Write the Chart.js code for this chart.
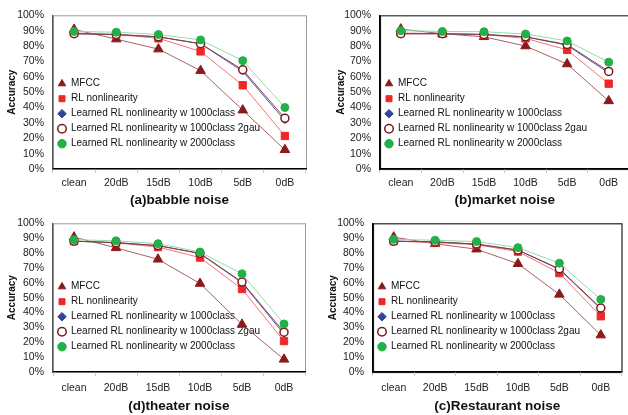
<!DOCTYPE html>
<html>
<head>
<meta charset="utf-8">
<script src="https://cdn.jsdelivr.net/npm/chart.js@4.4.0/dist/chart.umd.min.js"></script>
<style>
  html, body { margin: 0; padding: 0; background: #fff; }
  #wrap { position: relative; width: 628px; height: 415px; overflow: hidden; }
  .panel { position: absolute; }
</style>
</head>
<body>
<div id="wrap">
  <canvas class="panel" id="chartA" width="314" height="208" style="left:0;top:0"></canvas>
  <canvas class="panel" id="chartB" width="322" height="208" style="left:314px;top:0"></canvas>
  <canvas class="panel" id="chartD" width="314" height="207" style="left:0;top:208px"></canvas>
  <canvas class="panel" id="chartC" width="314" height="207" style="left:314px;top:208px"></canvas>
</div>
<script>
// noise conditions on the x axis
const noiseLevels = ['clean', '20dB', '15dB', '10dB', '5dB', '0dB'];
const seriesNames = [
  'MFCC',
  'RL nonlinearity',
  'Learned RL nonlinearity w 1000class',
  'Learned RL nonlinearity w 1000class 2gau',
  'Learned RL nonlinearity w 2000class'
];
const yTicks = [0, 10, 20, 30, 40, 50, 60, 70, 80, 90, 100];

// (a) babble noise
const babbleMFCC    = [90.8, 84.5, 78, 64, 38.3, 12.5];
const babbleRL      = [88.5, 87.5, 85, 76.5, 54.5, 21.5];
const babbleL1000   = [88, 87.5, 86, 81.5, 63.5, 31.5];
const babbleL1000g2 = [88, 87.5, 86, 81.5, 64.5, 33];
const babbleL2000   = [89.5, 89, 87.5, 84, 70.5, 40];

// (b) market noise
const marketMFCC    = [91, 88, 86, 80, 68.3, 44.3];
const marketRL      = [88.5, 88, 87.5, 85, 77.5, 55.5];
const marketL1000   = [88, 88, 87.5, 86, 80.5, 62.5];
const marketL1000g2 = [88, 88, 87.5, 86, 81, 63.5];
const marketL2000   = [90, 89.5, 89.3, 87.8, 83.3, 69.5];

// (d) theater noise
const theaterMFCC    = [90.7, 83.5, 75.8, 59.5, 32, 8.5];
const theaterRL      = [88, 86.8, 84, 77, 55.8, 20.8];
const theaterL1000   = [88, 87, 85, 79.6, 60, 25.5];
const theaterL1000g2 = [88, 87, 85, 79.8, 60.5, 26.8];
const theaterL2000   = [89, 88.2, 86.3, 80.7, 66, 32.3];

// (c) restaurant noise
const restMFCC    = [90.7, 86.2, 82.6, 72.8, 52.2, 24.8];
const restRL      = [88, 87, 85.6, 81, 66.5, 37.5];
const restL1000   = [88, 87.5, 86, 82, 69, 42.5];
const restL1000g2 = [88, 87.5, 86, 82, 69.4, 43];
const restL2000   = [89.2, 88.6, 87.7, 83.6, 73.2, 48.8];

const FONT = "'Liberation Sans', Arial, sans-serif";

// plot area frame drawn behind everything
const plotFrame = {
  id: 'plotFrame',
  beforeDraw(chart, args, opts) {
    const a = chart.chartArea;
    const ctx = chart.ctx;
    ctx.save();
    ctx.strokeStyle = opts.color;
    ctx.lineWidth = opts.width;
    ctx.strokeRect(a.left + 0.5, a.top + 0.5, a.width, a.height);
    ctx.restore();
  }
};

function makeDatasets(vals) {
  return [
    { label: seriesNames[0], data: vals[0], order: 4,
      borderColor: '#a86060', backgroundColor: '#8b1a1a',
      pointBackgroundColor: '#8b1a1a', pointBorderColor: '#8b1a1a',
      pointStyle: 'triangle', pointRadius: 5.5, borderWidth: 1 },
    { label: seriesNames[1], data: vals[1], order: 3,
      borderColor: '#f27474', backgroundColor: '#ee2828',
      pointBackgroundColor: '#ee2828', pointBorderColor: '#ee2828',
      pointStyle: 'rect', pointRadius: 5.2, borderWidth: 1 },
    { label: seriesNames[2], data: vals[2], order: 2,
      borderColor: '#5560aa', backgroundColor: '#33449c',
      pointBackgroundColor: '#33449c', pointBorderColor: '#33449c',
      pointStyle: 'rectRot', pointRadius: 3, borderWidth: 1 },
    { label: seriesNames[3], data: vals[3], order: 1,
      borderColor: '#8a3848', backgroundColor: '#ffffff',
      pointBackgroundColor: '#ffffff', pointBorderColor: '#7a1a1a',
      pointBorderWidth: 1.5, pointStyle: 'circle', pointRadius: 4, borderWidth: 1 },
    { label: seriesNames[4], data: vals[4], order: 0,
      borderColor: '#94dca4', backgroundColor: '#22b048',
      pointBackgroundColor: '#22b048', pointBorderColor: '#22b048',
      pointStyle: 'circle', pointRadius: 4, borderWidth: 1 }
  ];
}

function makePanel(id, title, vals, g) {
  new Chart(document.getElementById(id), {
    type: 'line',
    data: { labels: noiseLevels, datasets: makeDatasets(vals) },
    plugins: [plotFrame],
    options: {
      responsive: false,
      animation: false,
      layout: { padding: { left: 0, top: g.top, right: g.right, bottom: 0 } },
      plugins: {
        plotFrame: { color: g.frame, width: g.frameWidth },
        tooltip: { enabled: false },
        legend: {
          position: 'chartArea',
          align: 'end',
          labels: {
            usePointStyle: true,
            boxHeight: 6,
            boxWidth: 8,
            padding: 5,
            color: '#111',
            font: { family: FONT, size: 10 },
            sort: (a, b) => a.datasetIndex - b.datasetIndex
          }
        }
      },
      scales: {
        x: {
          offset: true,
          afterFit: s => { s.height = g.xHeight; },
          grid: { display: true, offset: true, drawOnChartArea: false, drawTicks: true,
                  tickLength: 4, color: '#c8c8c8' },
          border: { color: '#000', width: 1.2 },
          ticks: { color: '#222', padding: g.xPad, autoSkip: false, maxRotation: 0,
                   font: { family: FONT, size: 10.5 } },
          title: { display: true, text: title, color: '#111', padding: { top: 0, bottom: g.titlePad },
                   font: { family: FONT, size: 13.5, weight: 'bold' } }
        },
        y: {
          min: 0, max: 100,
          afterFit: s => { s.width = g.yWidth; },
          afterBuildTicks: s => { s.ticks = yTicks.map(v => ({ value: v })); },
          grid: { display: false, drawTicks: false },
          border: { color: g.yAxisColor, width: g.yAxisWidth },
          ticks: { color: '#222', padding: 9, autoSkip: false, font: { family: FONT, size: 10.5 },
                   callback: v => v + '%' },
          title: { display: true, text: 'Accuracy', color: '#111',
                   padding: { top: g.yTitlePad, bottom: 0 },
                   font: { family: FONT, size: 10, weight: 'bold' } }
        }
      }
    }
  });
}

makePanel('chartA', '(a)babble noise',
  [babbleMFCC, babbleRL, babbleL1000, babbleL1000g2, babbleL2000],
  { top: 12, right: 8, yWidth: 53, xHeight: 39, xPad: 4, titlePad: 0, yTitlePad: 6,
    frame: '#9a9a9a', frameWidth: 1, yAxisColor: '#555', yAxisWidth: 1.2 });

makePanel('chartB', '(b)market noise',
  [marketMFCC, marketRL, marketL1000, marketL1000g2, marketL2000],
  { top: 12, right: 3, yWidth: 66, xHeight: 39, xPad: 4, titlePad: 0, yTitlePad: 21,
    frame: '#333', frameWidth: 1.2, yAxisColor: '#000', yAxisWidth: 1.6 });

makePanel('chartD', '(d)theater noise',
  [theaterMFCC, theaterRL, theaterL1000, theaterL1000g2, theaterL2000],
  { top: 7, right: 9, yWidth: 53, xHeight: 43, xPad: 6, titlePad: 1, yTitlePad: 6,
    frame: '#9a9a9a', frameWidth: 1, yAxisColor: '#555', yAxisWidth: 1.2 });

makePanel('chartC', '(c)Restaurant noise',
  [restMFCC, restRL, restL1000, restL1000g2, restL2000],
  { top: 7, right: 2, yWidth: 59, xHeight: 43, xPad: 6, titlePad: 1, yTitlePad: 13,
    frame: '#222', frameWidth: 1.2, yAxisColor: '#000', yAxisWidth: 1.4 });
</script>
</body>
</html>
